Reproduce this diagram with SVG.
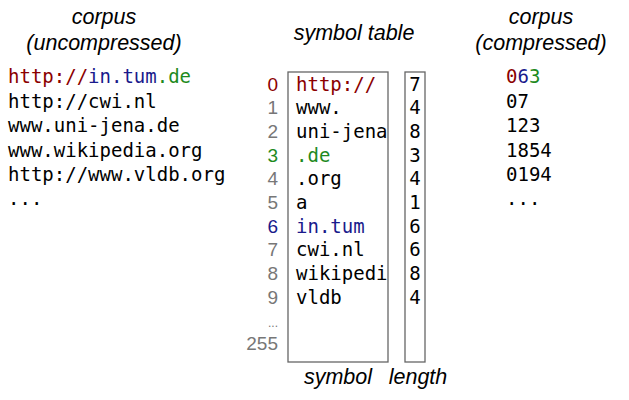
<svg xmlns="http://www.w3.org/2000/svg" width="629" height="400" viewBox="0 0 629 400">
<style>
.t{font-family:"Liberation Sans",Arial,sans-serif;font-style:italic;font-size:21.5px;fill:#000;text-anchor:middle}
.m{font-family:"DejaVu Sans Mono",monospace;font-size:19px;fill:#000}
.i{font-family:"Liberation Sans",Arial,sans-serif;font-size:19px;fill:#777;text-anchor:end}
.r{fill:#8b0000}.b{fill:#1a1a8c}.g{fill:#1e8a1e}
.box{fill:none;stroke:#666;stroke-width:1.3}
</style>
<g id="titles">
<text class="t" x="104" y="24">corpus</text>
<text class="t" x="104" y="50">(uncompressed)</text>
<text class="t" x="354" y="40">symbol table</text>
<text class="t" x="541" y="24">corpus</text>
<text class="t" x="541" y="50">(compressed)</text>
<text class="t" x="338" y="384">symbol</text>
<text class="t" x="418" y="384">length</text>
</g>
<g id="uncompressed" class="m">
<text x="8" y="83"><tspan class="r">http://</tspan><tspan class="b">in.tum</tspan><tspan class="g">.de</tspan></text>
<text x="8" y="108">http://cwi.nl</text>
<text x="8" y="132">www.uni-jena.de</text>
<text x="8" y="157">www.wikipedia.org</text>
<text x="8" y="181">http://www.vldb.org</text>
<text x="8" y="205">...</text>
</g>
<g id="symboltable">
<rect class="box" x="288" y="72" width="100" height="290"/>
<rect class="box" x="405" y="72" width="20" height="290"/>
<g class="i">
<text x="278" y="91" style="fill:#8b0000">0</text>
<text x="278" y="114">1</text>
<text x="278" y="138">2</text>
<text x="278" y="162" style="fill:#1e8a1e">3</text>
<text x="278" y="185">4</text>
<text x="278" y="209">5</text>
<text x="278" y="233" style="fill:#1a1a8c">6</text>
<text x="278" y="256">7</text>
<text x="278" y="280">8</text>
<text x="278" y="304">9</text>
<text x="278" y="327" style="font-size:12px">...</text>
<text x="278" y="350">255</text>
</g>
<g class="m">
<text x="296" y="91" class="r">http://</text>
<text x="296" y="114">www.</text>
<text x="296" y="138">uni-jena</text>
<text x="296" y="162" class="g">.de</text>
<text x="296" y="185">.org</text>
<text x="296" y="209">a</text>
<text x="296" y="233" class="b">in.tum</text>
<text x="296" y="256">cwi.nl</text>
<text x="296" y="280">wikipedi</text>
<text x="296" y="304">vldb</text>
</g>
<g class="m" text-anchor="middle">
<text x="415" y="91">7</text><text x="415" y="114">4</text><text x="415" y="138">8</text><text x="415" y="162">3</text><text x="415" y="185">4</text><text x="415" y="209">1</text><text x="415" y="233">6</text><text x="415" y="256">6</text><text x="415" y="280">8</text><text x="415" y="304">4</text>
</g>
</g>
<g id="compressed" class="m">
<text x="506" y="83"><tspan class="r">0</tspan><tspan class="b">6</tspan><tspan class="g">3</tspan></text>
<text x="506" y="108">07</text>
<text x="506" y="132">123</text>
<text x="506" y="157">1854</text>
<text x="506" y="181">0194</text>
<text x="506" y="205">...</text>
</g>
</svg>
